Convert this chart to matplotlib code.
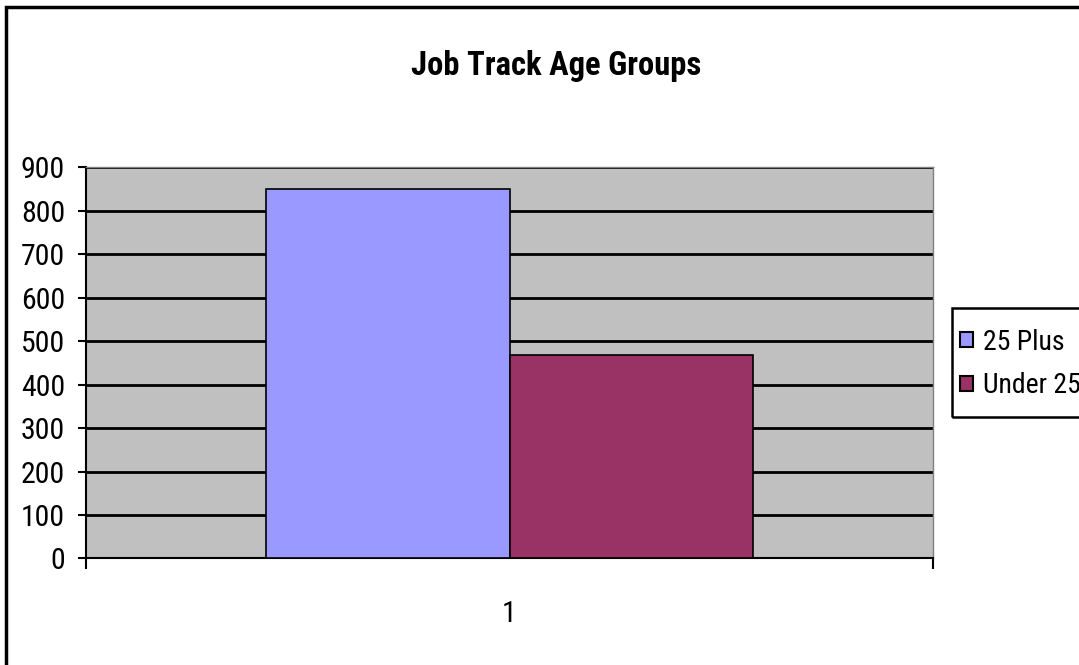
import matplotlib.pyplot as plt
from matplotlib.patches import Rectangle

# data
series = ["25 Plus", "Under 25"]
values = [850, 468]
colors = ["#9999FF", "#993366"]
category = "1"
yticks = [0, 100, 200, 300, 400, 500, 600, 700, 800, 900]

plt.rcParams["font.family"] = ["Roboto Condensed", "Liberation Sans", "DejaVu Sans"]

fig = plt.figure(figsize=(10.79, 6.65), dpi=100)
ax = fig.add_axes([86 / 1079, 1 - 558.4 / 665, 847 / 1079, 391 / 665])
ax.set_facecolor("#C0C0C0")

w = 0.287
for i, (name, v, c) in enumerate(zip(series, values, colors)):
    x = (i - 0.5) * w
    ax.bar(x, v, width=w, color=c, edgecolor="black", linewidth=1.2, label=name, zorder=3)

ax.set_xlim(-0.5, 0.5)
ax.set_ylim(0, 900)
ax.set_yticks(yticks)
ax.set_yticklabels([str(t) for t in yticks])
ax.yaxis.grid(True, color="black", linewidth=2, zorder=1)
ax.set_axisbelow(True)

ax.set_xticks([-0.5, 0.5])
ax.set_xticklabels(["", ""])
ax.set_xticks([0], minor=True)
ax.set_xticklabels([category], minor=True)
ax.tick_params(axis="x", which="major", length=8, width=1.5, direction="out")
ax.tick_params(axis="x", which="minor", length=0, pad=30, labelsize=21.5)
ax.tick_params(axis="y", length=6, width=1.5, pad=9, labelsize=21.5)

for s in ["left", "bottom"]:
    ax.spines[s].set_linewidth(1.5)
    ax.spines[s].set_color("black")
for s in ["top", "right"]:
    ax.spines[s].set_linewidth(1)
    ax.spines[s].set_color("#808080")

fig.text(556 / 1079, 1 - 66 / 665, "Job Track Age Groups", ha="center", va="center",
         fontsize=23.5, fontweight="bold")

# legend: entries without frame, box drawn separately (runs past the right edge)
leg = fig.legend(loc="center left", bbox_to_anchor=(952 / 1079, 1 - 364 / 665),
                 fontsize=20, frameon=False,
                 handlelength=0.45, handleheight=0.45, handletextpad=0.35,
                 labelspacing=0.6, borderpad=0.3, borderaxespad=0)
for h in leg.legend_handles:
    h.set_edgecolor("black")
    h.set_linewidth(1.5)
fig.patches.append(Rectangle((952 / 1079, 1 - 417 / 665), 0.2, 109 / 665,
                             transform=fig.transFigure, fill=False,
                             edgecolor="black", linewidth=1.8))

# outer chart frame (only top/left fall inside the picture)
fig.patches.append(Rectangle((6 / 1079, -0.05), 1.1, 1 - 7 / 665 + 0.05,
                             transform=fig.transFigure, fill=False,
                             edgecolor="black", linewidth=2.5))

fig.savefig("out.png", dpi=100)
